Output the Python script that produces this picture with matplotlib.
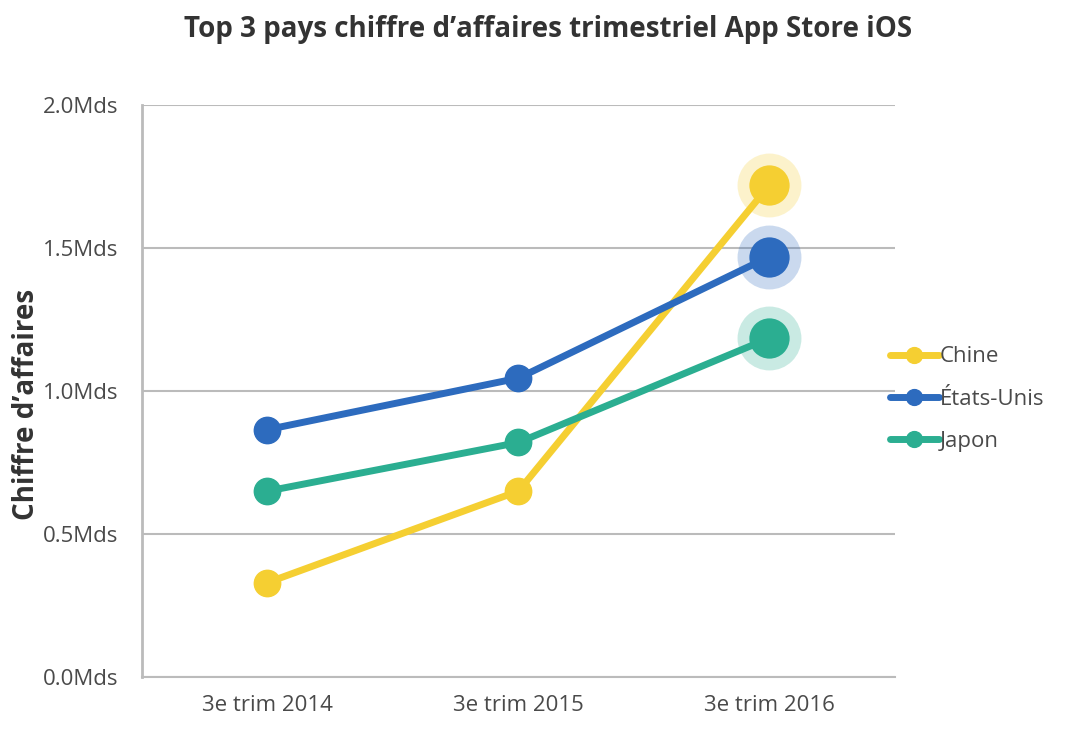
import numpy as np
import matplotlib.pyplot as plt

categories = ['3e trim 2014', '3e trim 2015', '3e trim 2016']
series_names = ['Chine', 'États-Unis', 'Japon']
chine = [0.33, 0.65, 1.72]
etats_unis = [0.865, 1.045, 1.47]
japon = [0.65, 0.82, 1.185]
y_ticks = [0.0, 0.5, 1.0, 1.5, 2.0]
y_tick_labels = ['0.0Mds', '0.5Mds', '1.0Mds', '1.5Mds', '2.0Mds']

colors = ['#F5CF32', '#2D6BBE', '#2BAE91']

plt.rcParams['font.family'] = ['Open Sans', 'DejaVu Sans']

fig = plt.figure(figsize=(10.7, 7.36), dpi=100)
ax = fig.add_axes([0.1327, 0.0802, 0.7037, 0.7771])

x = np.arange(len(categories))
for name, vals, c in zip(series_names, [chine, etats_unis, japon], colors):
    ax.plot(x, vals, color=c, lw=5, marker='o', ms=19, label=name,
            solid_capstyle='round', zorder=3)
    # highlighted last point
    ax.plot(x[-1], vals[-1], 'o', color=c, ms=46, alpha=0.25, mec='none', zorder=2)
    ax.plot(x[-1], vals[-1], 'o', color=c, ms=29, mec='none', zorder=4)

ax.set_xlim(-0.5, 2.5)
ax.set_ylim(0, 2.0)
ax.set_xticks(x)
ax.set_xticklabels(categories, fontsize=16, color='#4a4a4a')
ax.set_yticks(y_ticks)
ax.set_yticklabels(y_tick_labels, fontsize=16, color='#4a4a4a')
ax.tick_params(length=0)
ax.tick_params(axis='y', pad=17)
ax.tick_params(axis='x', pad=13)
ax.grid(axis='y', color='#BBBBBB', lw=1.5)
ax.set_axisbelow(True)
for s in ['top', 'right']:
    ax.spines[s].set_visible(False)
ax.spines['left'].set_color('#BBBBBB')
ax.spines['left'].set_linewidth(2)
ax.spines['bottom'].set_color('#BBBBBB')
ax.spines['bottom'].set_linewidth(1.5)

ax.set_ylabel("Chiffre d’affaires", fontsize=20, fontweight='bold', color='#333333',
              va='center')
ax.yaxis.set_label_coords(-0.153, 0.476)
fig.suptitle("Top 3 pays chiffre d’affaires trimestriel App Store iOS", fontsize=20,
             fontweight='bold', color='#333333', x=0.512, y=0.98)

leg = ax.legend(loc='center left', bbox_to_anchor=(0.993, 0.486), frameon=False,
                fontsize=16, handlelength=2.2, handletextpad=0.05, markerscale=0.6,
                labelspacing=0.95, borderaxespad=0, borderpad=0, labelcolor='#4a4a4a')

fig.savefig('out.png', dpi=100)
